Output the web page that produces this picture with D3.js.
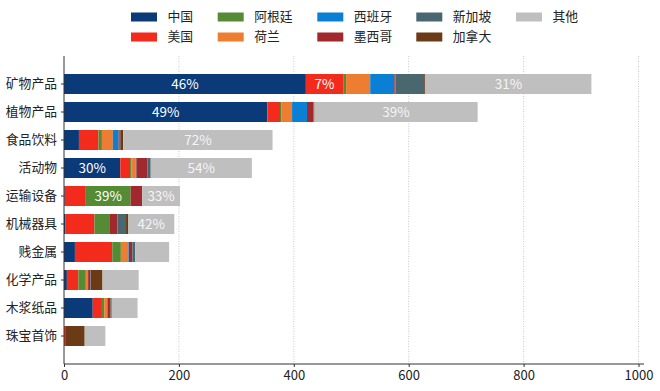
<!DOCTYPE html>
<html>
<head>
<meta charset="utf-8">
<script src="https://cdn.jsdelivr.net/npm/d3@7"></script>
<style>
  body { margin: 0; background: #fff; }
  text { font-family: "Noto Sans CJK SC", "DejaVu Sans", sans-serif; }
</style>
</head>
<body>
<svg id="chart" width="660" height="391"></svg>
<script>
const categories = ['矿物产品', '植物产品', '食品饮料', '活动物', '运输设备', '机械器具', '贱金属', '化学产品', '木浆纸品', '珠宝首饰']
const seriesNames = ['中国', '美国', '阿根廷', '荷兰', '西班牙', '墨西哥', '新加坡', '加拿大', '其他']
const seriesColors = ['#0a3a78', '#f22b1d', '#558b35', '#ed7d31', '#0b7fd3', '#a1282c', '#49676f', '#6b3a16', '#bfbfbf']

const china     = [421, 354, 26, 98,  1,  2, 19,  5, 50,  0]
const usa       = [ 65,  22, 34, 17, 37, 51, 65, 20, 16,  2]
const argentina = [  5,   2,  6,  2, 78, 27, 15, 13,  4,  0]
const holland   = [ 42,  19, 19,  8,  0,  0, 13,  4,  5,  0]
const spain     = [ 42,  26, 10,  1,  0,  0,  1,  0,  1,  0]
const mexico    = [  2,  11,  2, 19, 20, 13,  6,  4,  4,  0]
const singapore = [ 50,   1,  1,  6,  0, 15,  5,  1,  1,  0]
const canada    = [  2,   1,  5,  0,  0,  4,  0, 20,  2, 34]
const others    = [289, 284, 260, 176, 66, 80, 59, 63, 45, 36]

const xTicks = [0, 200, 400, 600, 800, 1000]

// segments that carry a percentage label
const labelled = [
  ['矿物产品', '中国'], ['矿物产品', '美国'], ['矿物产品', '其他'],
  ['植物产品', '中国'], ['植物产品', '其他'],
  ['食品饮料', '其他'],
  ['活动物', '中国'], ['活动物', '其他'],
  ['运输设备', '阿根廷'], ['运输设备', '其他'],
  ['机械器具', '其他']
]

const seriesValues = [china, usa, argentina, holland, spain, mexico, singapore, canada, others]

const rows = categories.map((cat, i) => {
  const row = {cat}
  seriesNames.forEach((s, j) => { row[s] = seriesValues[j][i] })
  row.total = d3.sum(seriesNames, s => row[s])
  return row
})

const stacked = d3.stack().keys(seriesNames)(rows)

const svg = d3.select('#chart')
const mLeft = 64, mRight = 644, mTop = 56, mBottom = 364

const x = d3.scaleLinear().domain([0, 1000]).range([mLeft, 638.5])
const y = d3.scaleBand().domain(categories).range([mTop + 14, mBottom - 14])
  .paddingInner(0.286).paddingOuter(0.143)
const color = d3.scaleOrdinal().domain(seriesNames).range(seriesColors)

// grid
svg.append('g')
  .selectAll('line')
  .data(xTicks.slice(1))
  .join('line')
  .attr('x1', d => x(d)).attr('x2', d => x(d))
  .attr('y1', mTop).attr('y2', mBottom)
  .attr('stroke', '#c8c8c8')
  .attr('stroke-width', 1)
  .attr('stroke-dasharray', '1,1.5')

// bars
svg.append('g').attr('class', 'bars')
  .selectAll('g')
  .data(stacked)
  .join('g')
  .attr('fill', d => color(d.key))
  .selectAll('rect')
  .data(d => d.map(v => ({key: d.key, v})))
  .join('rect')
  .attr('x', d => x(d.v[0]))
  .attr('width', d => x(d.v[1]) - x(d.v[0]))
  .attr('y', d => y(d.v.data.cat))
  .attr('height', y.bandwidth())

// percentage labels
const labelData = labelled.map(([cat, key]) => {
  const layer = stacked.find(l => l.key === key)
  const v = layer[categories.indexOf(cat)]
  return {cat, key, v, pct: Math.round(100 * (v[1] - v[0]) / v.data.total)}
})

svg.append('g')
  .selectAll('text')
  .data(labelData)
  .join('text')
  .attr('x', d => (x(d.v[0]) + x(d.v[1])) / 2)
  .attr('y', d => y(d.cat) + y.bandwidth() / 2)
  .attr('dy', '0.35em')
  .attr('text-anchor', 'middle')
  .attr('font-size', 13.5)
  .attr('fill', d => d.key === '其他' ? '#f4f4f4' : '#ffffff')
  .text(d => d.pct + '%')

// axes
const xAxis = svg.append('g')
  .attr('transform', `translate(0,${mBottom})`)
  .call(d3.axisBottom(x).tickValues(xTicks).tickFormat(d3.format('d')).tickSize(3).tickPadding(4))
xAxis.select('.domain').attr('d', `M${mLeft},0H${mRight}`).attr('stroke', '#333')
xAxis.selectAll('.tick line').attr('stroke', '#333')
xAxis.selectAll('text').attr('font-size', 13).attr('fill', '#222')
  .attr('font-family', '"DejaVu Sans", sans-serif')

const yAxis = svg.append('g')
  .attr('transform', `translate(${mLeft},0)`)
  .call(d3.axisLeft(y).tickSize(3).tickPadding(4))
yAxis.select('.domain').attr('d', `M0,${mTop}V${mBottom}`).attr('stroke', '#333')
yAxis.selectAll('.tick line').attr('stroke', '#333')
yAxis.selectAll('text').attr('font-size', 12.8).attr('fill', '#222')

// legend, column-major in two rows
const legend = svg.append('g')
const colX = [131, 217.7, 317.3, 416.3, 516]
const rowY = [17, 37]
seriesNames.forEach((s, i) => {
  const col = Math.floor(i / 2), row = i % 2
  const g = legend.append('g')
    .attr('transform', `translate(${colX[col]},${rowY[row]})`)
  g.append('rect')
    .attr('x', 0).attr('y', -4.5)
    .attr('width', 26).attr('height', 9)
    .attr('fill', color(s))
  g.append('text')
    .attr('x', 36.5).attr('dy', '0.35em')
    .attr('font-size', 12.8).attr('fill', '#222')
    .text(s)
})
</script>
</body>
</html>
